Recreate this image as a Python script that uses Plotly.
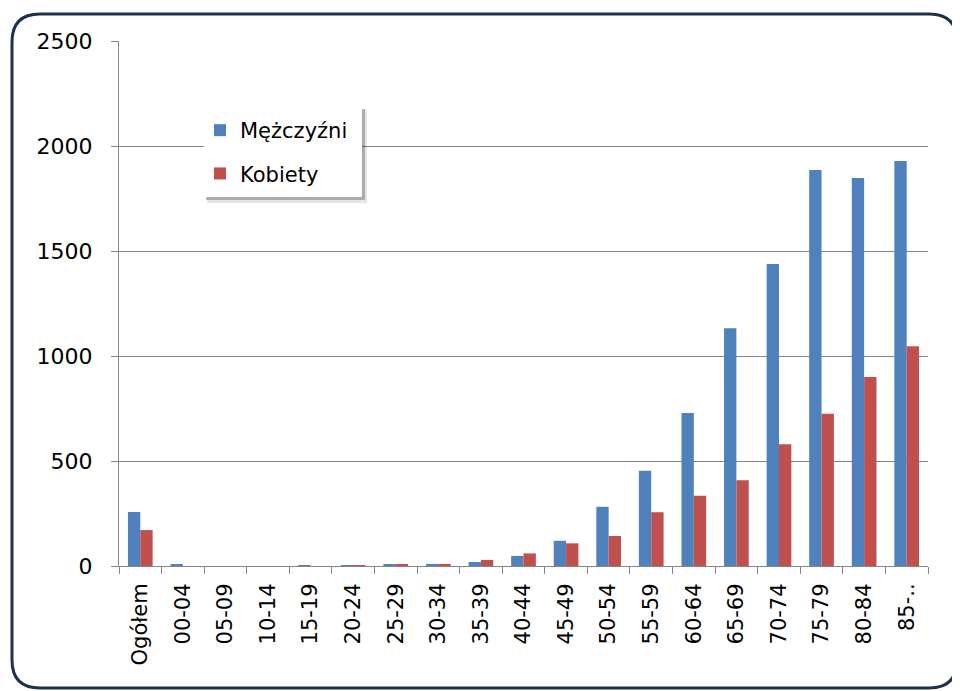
import plotly.graph_objects as go

categories = ["Ogółem", "00-04", "05-09", "10-14", "15-19", "20-24", "25-29", "30-34",
              "35-39", "40-44", "45-49", "50-54", "55-59", "60-64", "65-69", "70-74",
              "75-79", "80-84", "85-.."]
men = [257, 5, 0, 0, 3, 4, 5, 10, 19, 48, 120, 282, 454, 729, 1132, 1438, 1886, 1848, 1929]
women = [171, 0, 0, 0, 0, 4, 5, 10, 29, 60, 108, 143, 256, 335, 408, 580, 725, 900, 1046]
series_names = ["Mężczyźni", "Kobiety"]
colors = ["#4f81bd", "#c0504d"]

OFF = 8  # page body offset
W, H = 960 - OFF, 691 - OFF
L, R, T, B = 119, 928, 41, 566  # plot area in page pixels

def px(x):
    return (x - L) / (R - L)

def py(y):
    return (B - y) / (B - T)

fig = go.Figure()
for i, (name, vals) in enumerate(zip(series_names, [men, women])):
    fig.add_trace(go.Bar(x=categories, y=vals, name=name, marker_color=colors[i],
                         marker_line_width=0, legendgroup=f"g{i}"))

# rounded frame
x0, x1, y0, y1, r = 12, 957, 14, 688, 28
rx = r / (R - L)
ry = r / (B - T)
X0, X1, Y0, Y1 = px(x0), px(x1), py(y0), py(y1)
path = (f"M {X0+rx},{Y0} L {X1-rx},{Y0} Q {X1},{Y0} {X1},{Y0-ry} "
        f"L {X1},{Y1+ry} Q {X1},{Y1} {X1-rx},{Y1} L {X0+rx},{Y1} "
        f"Q {X0},{Y1} {X0},{Y1+ry} L {X0},{Y0-ry} Q {X0},{Y0} {X0+rx},{Y0} Z")
shapes = [
    dict(type="path", path=path, xref="paper", yref="paper",
         line=dict(color="#1c3150", width=3), fillcolor="rgba(0,0,0,0)", layer="below"),
    # legend shadow + box
    dict(type="rect", xref="paper", yref="paper",
         x0=px(207), x1=px(367), y0=py(110), y1=py(203),
         fillcolor="rgba(0,0,0,0.10)", line_width=0, layer="above"),
    dict(type="rect", xref="paper", yref="paper",
         x0=px(206), x1=px(365), y0=py(109), y1=py(200),
         fillcolor="rgba(0,0,0,0.25)", line_width=0, layer="above"),
    dict(type="rect", xref="paper", yref="paper",
         x0=px(204), x1=px(362), y0=py(106), y1=py(197),
         fillcolor="white", line_width=0, layer="above"),
]

fig.update_layout(
    width=W, height=H,
    margin=dict(l=L - OFF, r=W - (R - OFF), t=T - OFF, b=H - (B - OFF)),
    paper_bgcolor="white", plot_bgcolor="white",
    font=dict(family="DejaVu Sans", color="#000000"),
    barmode="group", bargap=0.42, bargroupgap=0,
    showlegend=True,
    legend=dict(x=px(200), y=py(110), xanchor="left", yanchor="top",
                bgcolor="rgba(0,0,0,0)", borderwidth=0, font=dict(size=21),
                traceorder="grouped", tracegroupgap=13, itemwidth=30),
    shapes=shapes,
)
fig.update_xaxes(
    type="category", tickangle=-90, tickson="boundaries", ticks="outside", ticklen=7,
    tickcolor="#868686", showline=True, linecolor="#868686", linewidth=1,
    showgrid=False, tickfont=dict(size=21), ticklabelstandoff=8,
)
fig.update_yaxes(
    range=[0, 2500], dtick=500, ticks="outside", ticklen=7, tickcolor="#868686",
    showline=True, linecolor="#868686", linewidth=1, showgrid=True,
    gridcolor="#868686", gridwidth=1, tickfont=dict(size=22), ticklabelstandoff=14,
    zeroline=False,
)
fig.write_html("out.html")
